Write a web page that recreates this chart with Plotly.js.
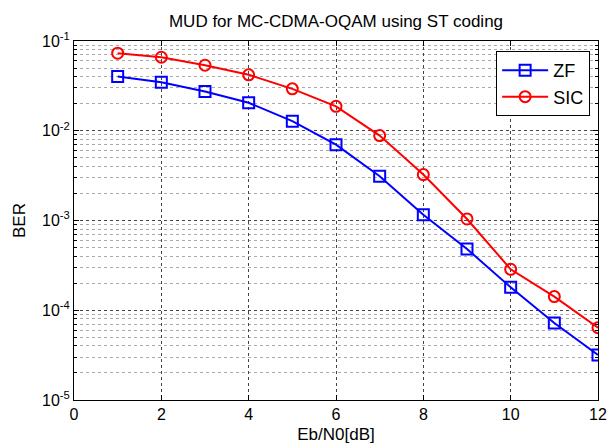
<!DOCTYPE html>
<html>
<head>
<meta charset="utf-8">
<script src="https://cdn.plot.ly/plotly-3.0.1.min.js"></script>
<style>html,body{margin:0;padding:0;background:#fff;}#chart{width:608px;height:448px;}</style>
</head>
<body>
<div id="chart"></div>
<script>
const ebn0 = [1, 2, 3, 4, 5, 6, 7, 8, 9, 10, 11, 12];
const berZF = [0.0402, 0.0347, 0.0274, 0.0205, 0.0128, 0.0070, 0.00311, 0.00116, 0.000482, 0.000180, 0.0000720, 0.0000317];
const berSIC = [0.0731, 0.0659, 0.0537, 0.0420, 0.0293, 0.0187, 0.00883, 0.00325, 0.00104, 0.000286, 0.000142, 0.0000640];
const yTickVals = [1e-5, 1e-4, 1e-3, 1e-2, 1e-1];
const yTickText = ['10<sup>-5</sup>', '10<sup>-4</sup>', '10<sup>-3</sup>', '10<sup>-2</sup>', '10<sup>-1</sup>'];
const xTickVals = [0, 2, 4, 6, 8, 10, 12];

const font = 'Arial, "Liberation Sans", sans-serif';

const traces = [
  {x: ebn0, y: berZF, name: 'ZF', mode: 'lines+markers', type: 'scatter',
   line: {color: '#0000ff', width: 2},
   marker: {symbol: 'square-open', size: 11, color: '#0000ff', line: {width: 2, color: '#0000ff'}}},
  {x: ebn0, y: berSIC, name: 'SIC', mode: 'lines+markers', type: 'scatter',
   line: {color: '#ff0000', width: 2},
   marker: {symbol: 'circle-open', size: 11, color: '#ff0000', line: {width: 2, color: '#ff0000'}}}
];

const layout = {
  width: 608, height: 448,
  margin: {l: 74, r: 10, t: 40.5, b: 48, pad: 0},
  paper_bgcolor: '#fff', plot_bgcolor: '#fff',
  font: {family: font, size: 16, color: '#000'},
  title: {text: 'MUD for MC-CDMA-OQAM using ST coding', font: {family: font, size: 17, color: '#000'},
          x: 0.5, xanchor: 'center', xref: 'paper', y: 0.953, yref: 'container', yanchor: 'middle'},
  xaxis: {
    range: [0, 12], tickvals: xTickVals, ticks: 'inside', ticklen: 5, tickcolor: '#000',
    showline: true, linecolor: '#000', linewidth: 1, mirror: 'allticks',
    showgrid: true, gridcolor: '#444', griddash: 'dot', gridwidth: 1, zeroline: false,
    tickfont: {size: 16},
    title: {text: 'Eb/N0[dB]', font: {size: 17}, standoff: 5}
  },
  yaxis: {
    type: 'log', range: [-5, -1], tickvals: yTickVals, ticktext: yTickText,
    ticks: 'inside', ticklen: 5, tickcolor: '#000',
    showline: true, linecolor: '#000', linewidth: 1, mirror: 'allticks',
    showgrid: true, gridcolor: '#444', griddash: 'dot', gridwidth: 1, zeroline: false,
    tickfont: {size: 16},
    minor: {dtick: 'D1', ticks: 'inside', ticklen: 3, tickcolor: '#000', showgrid: true, gridcolor: '#aaa', griddash: 'dot', gridwidth: 1},
    title: {text: 'BER', font: {size: 17}, standoff: 12}
  },
  legend: {x: 0.985, xanchor: 'right', y: 0.972, yanchor: 'top', bgcolor: '#fff',
           bordercolor: '#000', borderwidth: 1, font: {size: 18}, itemwidth: 46, tracegroupgap: 0},
  showlegend: true
};

Plotly.newPlot('chart', traces, layout, {staticPlot: true, displayModeBar: false});
</script>
</body>
</html>
